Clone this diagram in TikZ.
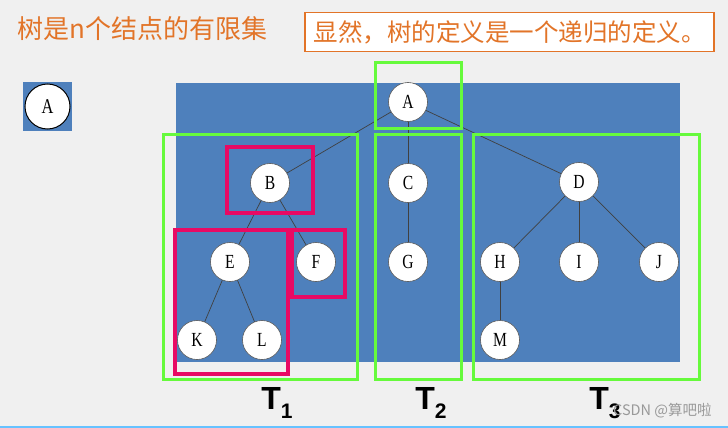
\documentclass[tikz,border=0pt]{standalone}
\usepackage{fontspec}
\setmainfont{Liberation Serif}
\newfontfamily\nodefont[FakeStretch=0.78]{Liberation Serif}
\newfontfamily\cjk{Noto Sans CJK SC}
\newfontfamily\tsans{Liberation Sans}
\definecolor{bgc}{RGB}{240,240,240}
\definecolor{panel}{RGB}{78,128,188}
\definecolor{grn}{RGB}{102,250,60}
\definecolor{rd}{RGB}{232,10,100}
\definecolor{org}{RGB}{226,116,40}
\begin{document}
\begin{tikzpicture}[x=1pt,y=-1pt,
  tnode/.style={circle,fill=white,draw=black!65,line width=0.6pt,minimum size=39pt,inner sep=0pt,font=\nodefont\fontsize{20}{20}\selectfont},
  edge/.style={draw=black!75,line width=0.7pt},
  gbox/.style={draw=grn,line width=3pt},
  rbox/.style={draw=rd,line width=4pt},
  tlab/.style={font=\tsans\bfseries\fontsize{32}{32}\selectfont,inner sep=0pt}]
\useasboundingbox (0,0) rectangle (728,428);
\fill[bgc] (0,0) rectangle (728,428);
\fill[blue!40!cyan!60!white] (0,426) rectangle (728,428);
% title
\node[anchor=west,text=org,font=\cjk\fontsize{26}{26}\selectfont,inner sep=0pt] (title) at (17,29) {树是n个结点的有限集};
\node[draw=org,line width=1.2pt,fill=white,text=org,minimum width=409pt,minimum height=39pt,inner sep=0pt,font=\cjk\fontsize{24.5}{24.5}\selectfont] (def) at (509.5,32) {显然，树的定义是一个递归的定义。};
% small A
\fill[panel] (23,82) rectangle (72,131);
\node[circle,fill=white,draw=black,line width=1pt,minimum size=45pt,inner sep=0pt,font=\nodefont\fontsize{21}{21}\selectfont] (a0) at (47.5,106.5) {A};
% panel
\fill[panel] (176,83) rectangle (680,362);
% nodes
\node[tnode] (A) at (408,102) {A};
\node[tnode] (B) at (270,183) {B};
\node[tnode] (C) at (408,183) {C};
\node[tnode] (D) at (579,182) {D};
\node[tnode] (E) at (230,262) {E};
\node[tnode] (F) at (316,262) {F};
\node[tnode] (G) at (408,262) {G};
\node[tnode] (H) at (500,262) {H};
\node[tnode] (I) at (579,262) {I};
\node[tnode] (J) at (659,262) {J};
\node[tnode] (K) at (197,340) {K};
\node[tnode] (L) at (262,340) {L};
\node[tnode] (M) at (500,340) {M};
% edges
\foreach \p/\c in {A/B,A/C,A/D,B/E,B/F,C/G,D/H,D/I,D/J,E/K,E/L,H/M}
  \draw[edge] (\p) -- (\c);
% green boxes
\draw[gbox] (375,63) rectangle (461,128);
\draw[gbox] (163,134) rectangle (357,379);
\draw[gbox] (375,134) rectangle (461,379);
\draw[gbox] (473,134) rectangle (699,379);
% red boxes
\draw[rbox] (227,147) rectangle (313,213);
\draw[rbox] (175,230) rectangle (288,374);
\draw[rbox] (292,230) rectangle (345,297);
% labels
\node[tlab] (t1) at (277,403) {T\raisebox{-9pt}{\fontsize{21}{21}\selectfont 1}};
\node[tlab] (t2) at (431,403) {T\raisebox{-9pt}{\fontsize{21}{21}\selectfont 2}};
\node[tlab] (t3) at (605,403) {T\raisebox{-9pt}{\fontsize{21}{21}\selectfont 3}};
\node[anchor=west,text=black!40,inner sep=0pt,font=\cjk\fontsize{14.5}{14.5}\selectfont] (wm) at (613,411) {CSDN @算吧啦};
\end{tikzpicture}
\end{document}
